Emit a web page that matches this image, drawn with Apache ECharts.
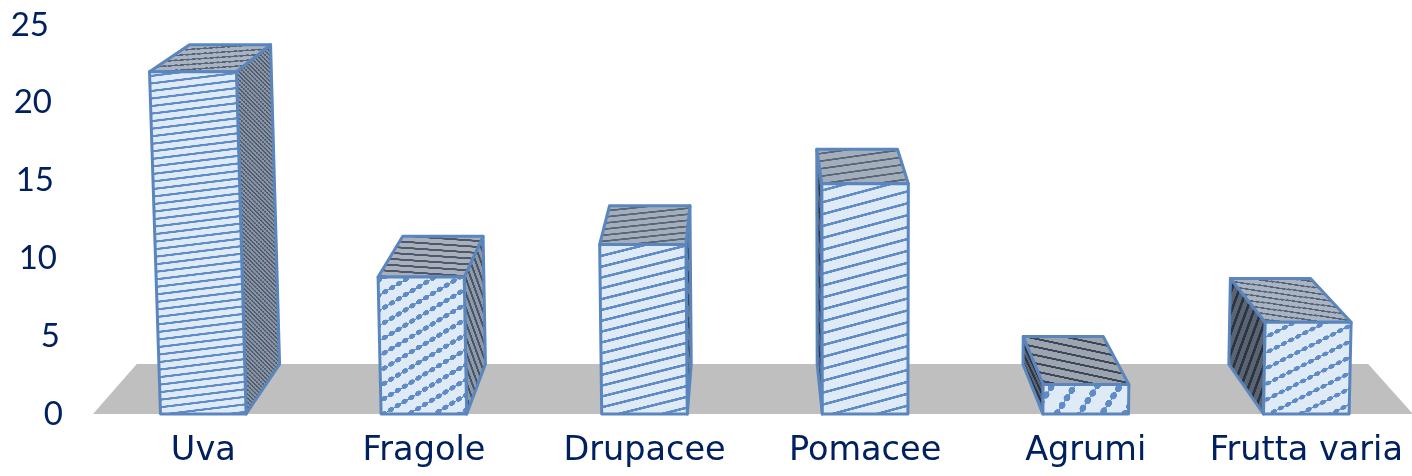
<!DOCTYPE html>
<html>
<head>
<meta charset="utf-8">
<style>html,body{margin:0;padding:0;background:#fff}#chart{width:1412px;height:476px}</style>
<script src="https://cdn.jsdelivr.net/npm/echarts@6/dist/echarts.min.js"></script>
</head>
<body>
<div id="chart"></div>
<script>
// Fruit groups and their values
const categories = ['Uva', 'Fragole', 'Drupacee', 'Pomacee', 'Agrumi', 'Frutta varia'];
const values = [22, 8.8, 10.9, 14.8, 1.9, 5.9];
const yTicks = [0, 5, 10, 15, 20, 25];

// Perspective of the box: depth scale towards the vanishing point, and upward splay
const DEPTH = 0.933, VP = [746, -331], SPLAY_X = 865, SPLAY_K = 4.56e-5;
const BASE_Y = 414;

const splay = (x, y) => x + (x - SPLAY_X) * SPLAY_K * (BASE_Y - y);
const toBack = p => [VP[0] + (p[0] - VP[0]) * DEPTH, VP[1] + (p[1] - VP[1]) * DEPTH];

// Hatch tiles: a band or chain of dots repeated across a coloured ground.
// Tiles are drawn oversampled and scaled back for smooth edges.
const OVER = 4;
function hatch(bg, fg, pitch, thick, angle, dot) {
  const w = dot || 8, c = document.createElement('canvas');
  c.width = w * OVER; c.height = pitch * OVER;
  const g = c.getContext('2d');
  g.scale(OVER, OVER);
  g.fillStyle = bg; g.fillRect(0, 0, w, pitch);
  g.fillStyle = fg;
  if (dot) {
    g.beginPath();
    g.ellipse(w / 2, pitch / 2, w * 0.42, thick / 2, 0, 0, Math.PI * 2);
    g.fill();
    g.fillRect(0, pitch / 2 - 0.5, w, 1);
  } else {
    g.fillRect(0, (pitch - thick) / 2, w, thick);
  }
  return { image: c, repeat: 'repeat', rotation: angle * Math.PI / 180, scaleX: 1 / OVER, scaleY: 1 / OVER };
}

const LIGHT = '#dfeaf7', BLUE = '#5f8cc6', EDGE = '#5a86bd';
const frontHatch = [
  hatch(LIGHT, BLUE, 7.5, 2.2, -7),
  hatch(LIGHT, BLUE, 13, 5, -31, 8),
  hatch(LIGHT, BLUE, 10.5, 2.6, -14),
  hatch(LIGHT, BLUE, 11.5, 2.6, -15),
  hatch(LIGHT, BLUE, 19, 6.5, -57, 9),
  hatch(LIGHT, BLUE, 14, 4.5, -27, 8)
];
const topHatch = [
  hatch('#a9b3c2', '#56647a', 5, 2, -4, 6),
  hatch('#a9b0bb', '#4c596c', 6, 2, 4),
  hatch('#a4adba', '#58667a', 6, 1.8, -6),
  hatch('#a4adba', '#58667a', 7.5, 1.8, -8),
  hatch('#9ca4b0', '#3b4757', 8, 2, 12),
  hatch('#a9b3c2', '#56647a', 5.5, 2, 8, 6)
];
const sideHatch = [
  hatch('#8a95a5', '#4e5a6e', 3, 1.6, 45, 3),
  hatch('#8f9aa9', '#48566b', 5, 2, 70),
  hatch('#6f7b8c', '#3b4758', 4, 2, 80),
  hatch('#566273', '#2f3a49', 4, 2, 80),
  hatch('#5b6675', '#2c3644', 4, 2, 65),
  hatch('#5a6472', '#2b3440', 7, 2.6, -70)
];

const face = (points, fill) => ({
  type: 'polygon',
  shape: { points },
  style: { fill, stroke: EDGE, lineWidth: 3, lineJoin: 'round' }
});

// One 3D column: visible side, top, then the front
function renderBar(params, api) {
  const i = api.value(0);
  const base = api.coord([i, 0]);
  const top = api.coord([i, api.value(1)]);
  const half = api.size([1, 0])[0] * 0.194;
  const xl = base[0] - half, xr = base[0] + half;
  const bl = [xl, base[1]], br = [xr, base[1]];
  const tl = [splay(xl, top[1]), top[1]], tr = [splay(xr, top[1]), top[1]];
  const children = [];
  if (toBack(br)[0] > br[0]) {
    children.push(face([br, tr, toBack(tr), toBack(br)], sideHatch[i]));
  }
  if (toBack(bl)[0] < bl[0]) {
    children.push(face([bl, tl, toBack(tl), toBack(bl)], sideHatch[i]));
  }
  children.push(face([tl, tr, toBack(tr), toBack(tl)], topHatch[i]));
  children.push(face([bl, br, tr, tl], frontHatch[i]));
  return { type: 'group', children };
}

// Grey floor plane spanning all the category bands
function renderFloor(params, api) {
  const band = api.size([1, 0])[0];
  const left = api.coord([0, 0])[0] - band * 0.5;
  const right = api.coord([categories.length - 1, 0])[0] + band * 0.483;
  const y = api.coord([0, 0])[1];
  return {
    type: 'polygon',
    shape: { points: [[left, y], [right, y], toBack([right, y]), toBack([left, y])] },
    style: { fill: '#bfbfbf' }
  };
}

// Tick labels follow the splayed vertical edge of the chart box
const AXIS_X = 63;
const NAVY = '#002060';
const NUM_FONT = { color: NAVY, fontFamily: 'Lato', fontSize: 33 };
const CAT_FONT = { color: NAVY, fontFamily: 'DejaVu Sans', fontSize: 33.5 };
const labelRich = { n: { ...NUM_FONT } };
yTicks.forEach(t => {
  const y = BASE_Y - t * 15.56;
  labelRich['s' + t] = { ...NUM_FONT, width: Math.round(AXIS_X - splay(AXIS_X, y)) };
});

const chart = echarts.init(document.getElementById('chart'));
chart.setOption({
  animation: false,
  grid: { left: 93, right: -4.6, top: 25, bottom: 62, outerBoundsMode: 'none' },
  xAxis: {
    type: 'category',
    data: categories,
    axisLine: { show: false },
    axisTick: { show: false },
    axisLabel: { ...CAT_FONT, margin: 20, interval: 0 }
  },
  yAxis: {
    type: 'value',
    min: 0,
    max: 25,
    interval: 5,
    axisLine: { show: false },
    axisTick: { show: false },
    splitLine: { show: false },
    axisLabel: {
      ...NUM_FONT,
      margin: 30,
      formatter: v => `{n|${v}}{s${v}| }`,
      rich: labelRich
    }
  },
  series: [
    {
      type: 'custom',
      silent: true,
      renderItem: renderFloor,
      data: [[0, 0]],
      encode: { x: 0, y: 1 },
      z: 1
    },
    {
      type: 'custom',
      silent: true,
      renderItem: renderBar,
      data: values.map((v, i) => [i, v]),
      encode: { x: 0, y: 1 },
      z: 2
    }
  ]
});
</script>
</body>
</html>
